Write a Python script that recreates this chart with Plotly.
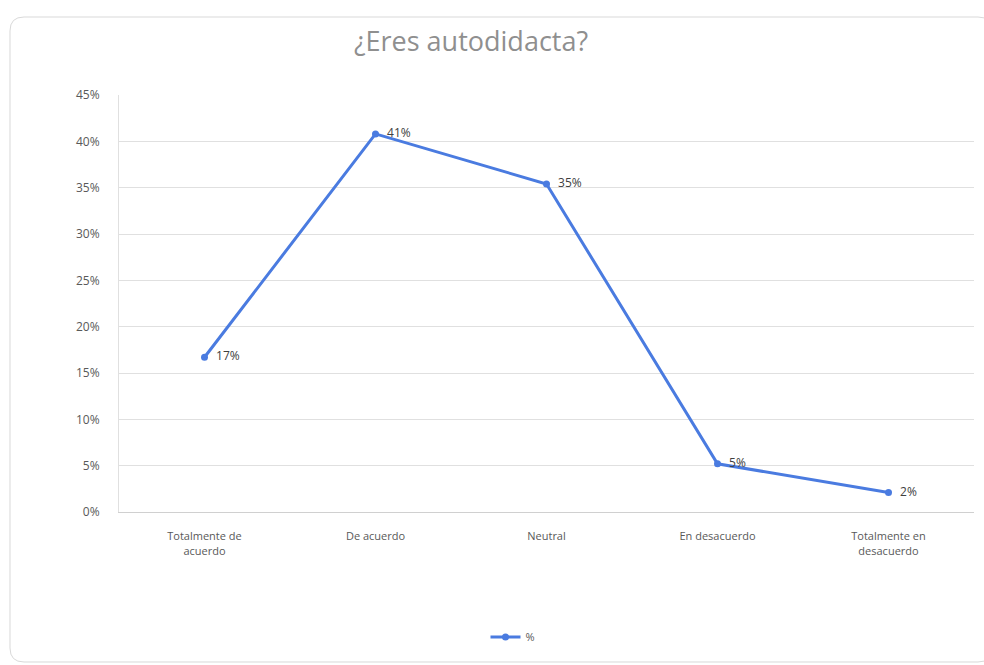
import plotly.graph_objects as go

categories = ["Totalmente de<br>acuerdo", "De acuerdo", "Neutral", "En desacuerdo", "Totalmente en<br>desacuerdo"]
values = [0.167, 0.408, 0.354, 0.052, 0.021]
labels = ["17%", "41%", "35%", "5%", "2%"]
series_name = "%"
title = "¿Eres autodidacta?"

FONT = "Open Sans, sans-serif"
W, H = 984, 665
L, R, T, B = 119, 10, 95, 153

fig = go.Figure()
fig.add_trace(go.Scatter(
    x=categories, y=values, name=series_name,
    mode="lines+markers+text",
    text=labels, texttemplate="  %{text}", textposition="middle right",
    textfont=dict(family=FONT, size=12, color="#404040"),
    line=dict(color="#4A7BE0", width=3),
    marker=dict(color="#4A7BE0", size=7),
    cliponaxis=False,
))

fig.update_layout(
    width=W, height=H,
    margin=dict(l=L, r=R, t=T, b=B, autoexpand=False),
    paper_bgcolor="white", plot_bgcolor="white",
    font=dict(family=FONT, size=11, color="#595959"),
    title=dict(text=title, x=471 / W, xanchor="center", y=1 - 42 / H, yanchor="middle",
               font=dict(family=FONT, size=27, color="#8f8f8f")),
    showlegend=True,
    legend=dict(orientation="h", x=(513 - L) / (W - L - R), xanchor="center",
                y=(512 - 637) / (512 - 95), yanchor="middle",
                font=dict(family=FONT, size=11, color="#595959")),
    xaxis=dict(showgrid=False, showline=True, linecolor="#d0d0d0", linewidth=1,
               range=[-0.5, 4.5], ticks="", ticklabelstandoff=14,
               tickfont=dict(family=FONT, size=11, color="#595959")),
    yaxis=dict(range=[0, 0.45], dtick=0.05, tickformat=".0%", showgrid=True,
               gridcolor="#e0e0e0", gridwidth=1, zeroline=False, showline=True,
               linecolor="#e0e0e0", ticks="", ticklabelstandoff=16,
               tickfont=dict(family=FONT, size=12, color="#595959")),
)

# rounded chart border (pixel coords converted to paper coords)
x0, y0, x1, y1, r = 10, 17, 992, 662, 14
def px(xp):
    return (xp - L) / (W - L - R)
def py(yp):
    return (H - B - yp) / (H - T - B)
def P(a, b):
    return f"{px(a):.5f},{py(b):.5f}"
path = (f"M {P(x0+r,y0)} L {P(x1-r,y0)} Q {P(x1,y0)} {P(x1,y0+r)} L {P(x1,y1-r)} Q {P(x1,y1)} {P(x1-r,y1)} "
        f"L {P(x0+r,y1)} Q {P(x0,y1)} {P(x0,y1-r)} L {P(x0,y0+r)} Q {P(x0,y0)} {P(x0+r,y0)} Z")
fig.add_shape(type="path", path=path, xref="paper", yref="paper",
              line=dict(color="#d9d9d9", width=1), layer="below")

fig.write_html("out.html")
